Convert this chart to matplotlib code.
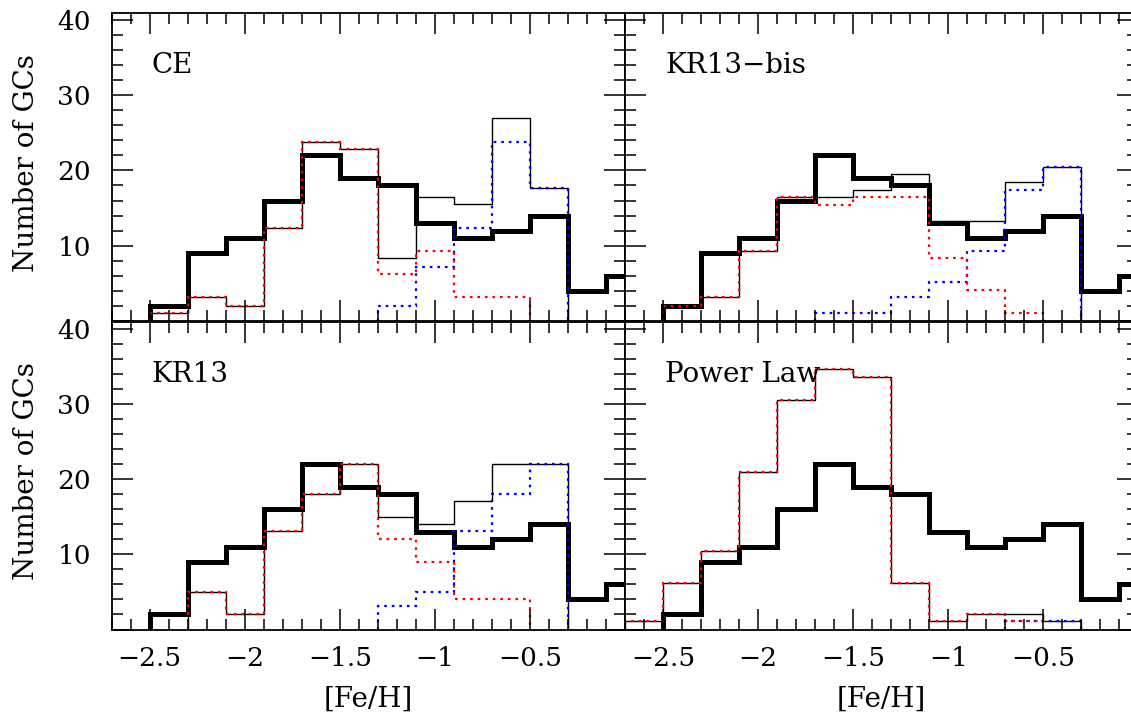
import numpy as np
import matplotlib
matplotlib.use('Agg')
import matplotlib.pyplot as plt
from matplotlib.ticker import MultipleLocator, FuncFormatter

# bin edges in [Fe/H], 0.2 dex bins
model_edges = np.round(np.arange(-2.7, -0.29, 0.2), 2)   # 12 model bins
obs_edges = np.round(np.arange(-2.5, 0.11, 0.2), 2)      # 13 observed bins

# observed MW globular clusters (thick line, same in every panel)
obs_counts = [2, 9, 11, 16, 22, 19, 18, 13, 11, 12, 14, 4, 6]

# model histograms: total (thin black), metal-poor (red dotted), metal-rich (blue dotted)
ce_total = [0, 1.0, 3.1, 2.0, 12.4, 23.8, 22.8, 8.3, 16.5, 15.6, 27.0, 17.6]
ce_poor = [0, 1.0, 3.1, 2.0, 12.4, 23.8, 22.8, 6.2, 9.3, 3.1, 3.1, 0]
ce_rich = [0, 0, 0, 0, 0, 0, 0, 2.0, 7.2, 12.4, 23.8, 17.6]

bis_total = [0, 2.0, 3.1, 9.3, 16.4, 16.4, 17.4, 19.5, 13.3, 13.3, 18.4, 20.5]
bis_poor = [0, 2.0, 3.1, 9.3, 16.4, 15.4, 16.4, 16.4, 8.3, 4.1, 1.0, 0]
bis_rich = [0, 0, 0, 0, 0, 1.0, 1.0, 3.1, 5.1, 9.3, 17.4, 20.5]

kr_total = [0, 0, 5.0, 2.0, 13.1, 18.0, 22.0, 15.0, 14.1, 17.1, 22.0, 22.0]
kr_poor = [0, 0, 5.0, 2.0, 13.1, 18.0, 22.0, 12.0, 9.0, 4.1, 4.1, 0]
kr_rich = [0, 0, 0, 0, 0, 0, 0, 3.1, 5.0, 13.1, 18.0, 22.0]

pl_total = [1.1, 6.2, 10.5, 21.0, 30.5, 34.7, 33.6, 6.2, 1.1, 2.1, 2.1, 1.1]
pl_poor = [1.1, 6.2, 10.5, 21.0, 30.5, 34.7, 33.6, 6.2, 1.1, 2.1, 1.1, 0]
pl_rich = [0, 0, 0, 0, 0, 0, 0, 0, 0, 0, 1.1, 1.1]

panel_names = ["CE", "KR13\u2212bis", "KR13", "Power Law"]
models = [(ce_total, ce_poor, ce_rich),
          (bis_total, bis_poor, bis_rich),
          (kr_total, kr_poor, kr_rich),
          (pl_total, pl_poor, pl_rich)]

plt.rcParams['font.family'] = 'DejaVu Serif'
FS = 19


def hist(ax, vals, edges, **kw):
    # drop empty bins at both ends so nothing runs along the axis
    vals = np.asarray(vals, float)
    nz = np.nonzero(vals)[0]
    i0, i1 = nz[0], nz[-1] + 1
    ax.stairs(vals[i0:i1], edges[i0:i1 + 1], baseline=0, joinstyle='miter', **kw)


def xfmt(v, p):
    if v > -0.01:
        return ''
    return ('%g' % v).replace('-', '\u2212')


def yfmt(v, p):
    if v < 1:
        return ''
    return '%d' % v


fig = plt.figure(figsize=(11.31, 7.17), dpi=100)
W, H = 1131.0, 717.0
lefts = [111.7, 625.0]
tops = [12.7, 321.5]
aw, ah = 513.3, 308.0

dots = (0, (1.2, 2.2))
for k in range(4):
    r, c = divmod(k, 2)
    ax = fig.add_axes([lefts[c] / W, 1 - (tops[r] + ah) / H, aw / W, ah / H])
    total, poor, rich = models[k]
    hist(ax, obs_counts, obs_edges, color='black', lw=3.6)
    hist(ax, total, model_edges, color='black', lw=1.0)
    hist(ax, rich, model_edges, color='#0000ff', lw=1.6, linestyle=dots)
    hist(ax, poor, model_edges, color='#ff0000', lw=1.6, linestyle=dots)

    ax.set_xlim(-2.7, 0)
    ax.set_ylim(0, 41)
    ax.xaxis.set_major_locator(MultipleLocator(0.5))
    ax.xaxis.set_minor_locator(MultipleLocator(0.1))
    ax.yaxis.set_major_locator(MultipleLocator(10))
    ax.yaxis.set_minor_locator(MultipleLocator(2))
    ax.xaxis.set_major_formatter(FuncFormatter(xfmt))
    ax.yaxis.set_major_formatter(FuncFormatter(yfmt))
    ax.tick_params(which='both', direction='in', top=True, right=True,
                   width=1.1, labelsize=FS)
    ax.tick_params(which='major', length=15)
    ax.tick_params(which='minor', length=7.7)
    ax.tick_params(axis='x', pad=12, labelbottom=(r == 1))
    ax.tick_params(axis='y', pad=15, labelleft=(c == 0))
    for s in ax.spines.values():
        s.set_linewidth(1.3)

    ax.text(0.078, 0.805, panel_names[k], transform=ax.transAxes,
            fontsize=FS + 1, ha='left', va='baseline')

for r in range(2):
    fig.text(27 / W, 1 - (tops[r] + ah / 2 - 4) / H, "Number of GCs",
             rotation=90, ha='center', va='center', fontsize=FS + 1)
for c in range(2):
    fig.text((lefts[c] + aw / 2) / W, 1 - 699 / H, "[Fe/H]",
             ha='center', va='center', fontsize=FS + 1)

fig.savefig('out.png', dpi=100)
